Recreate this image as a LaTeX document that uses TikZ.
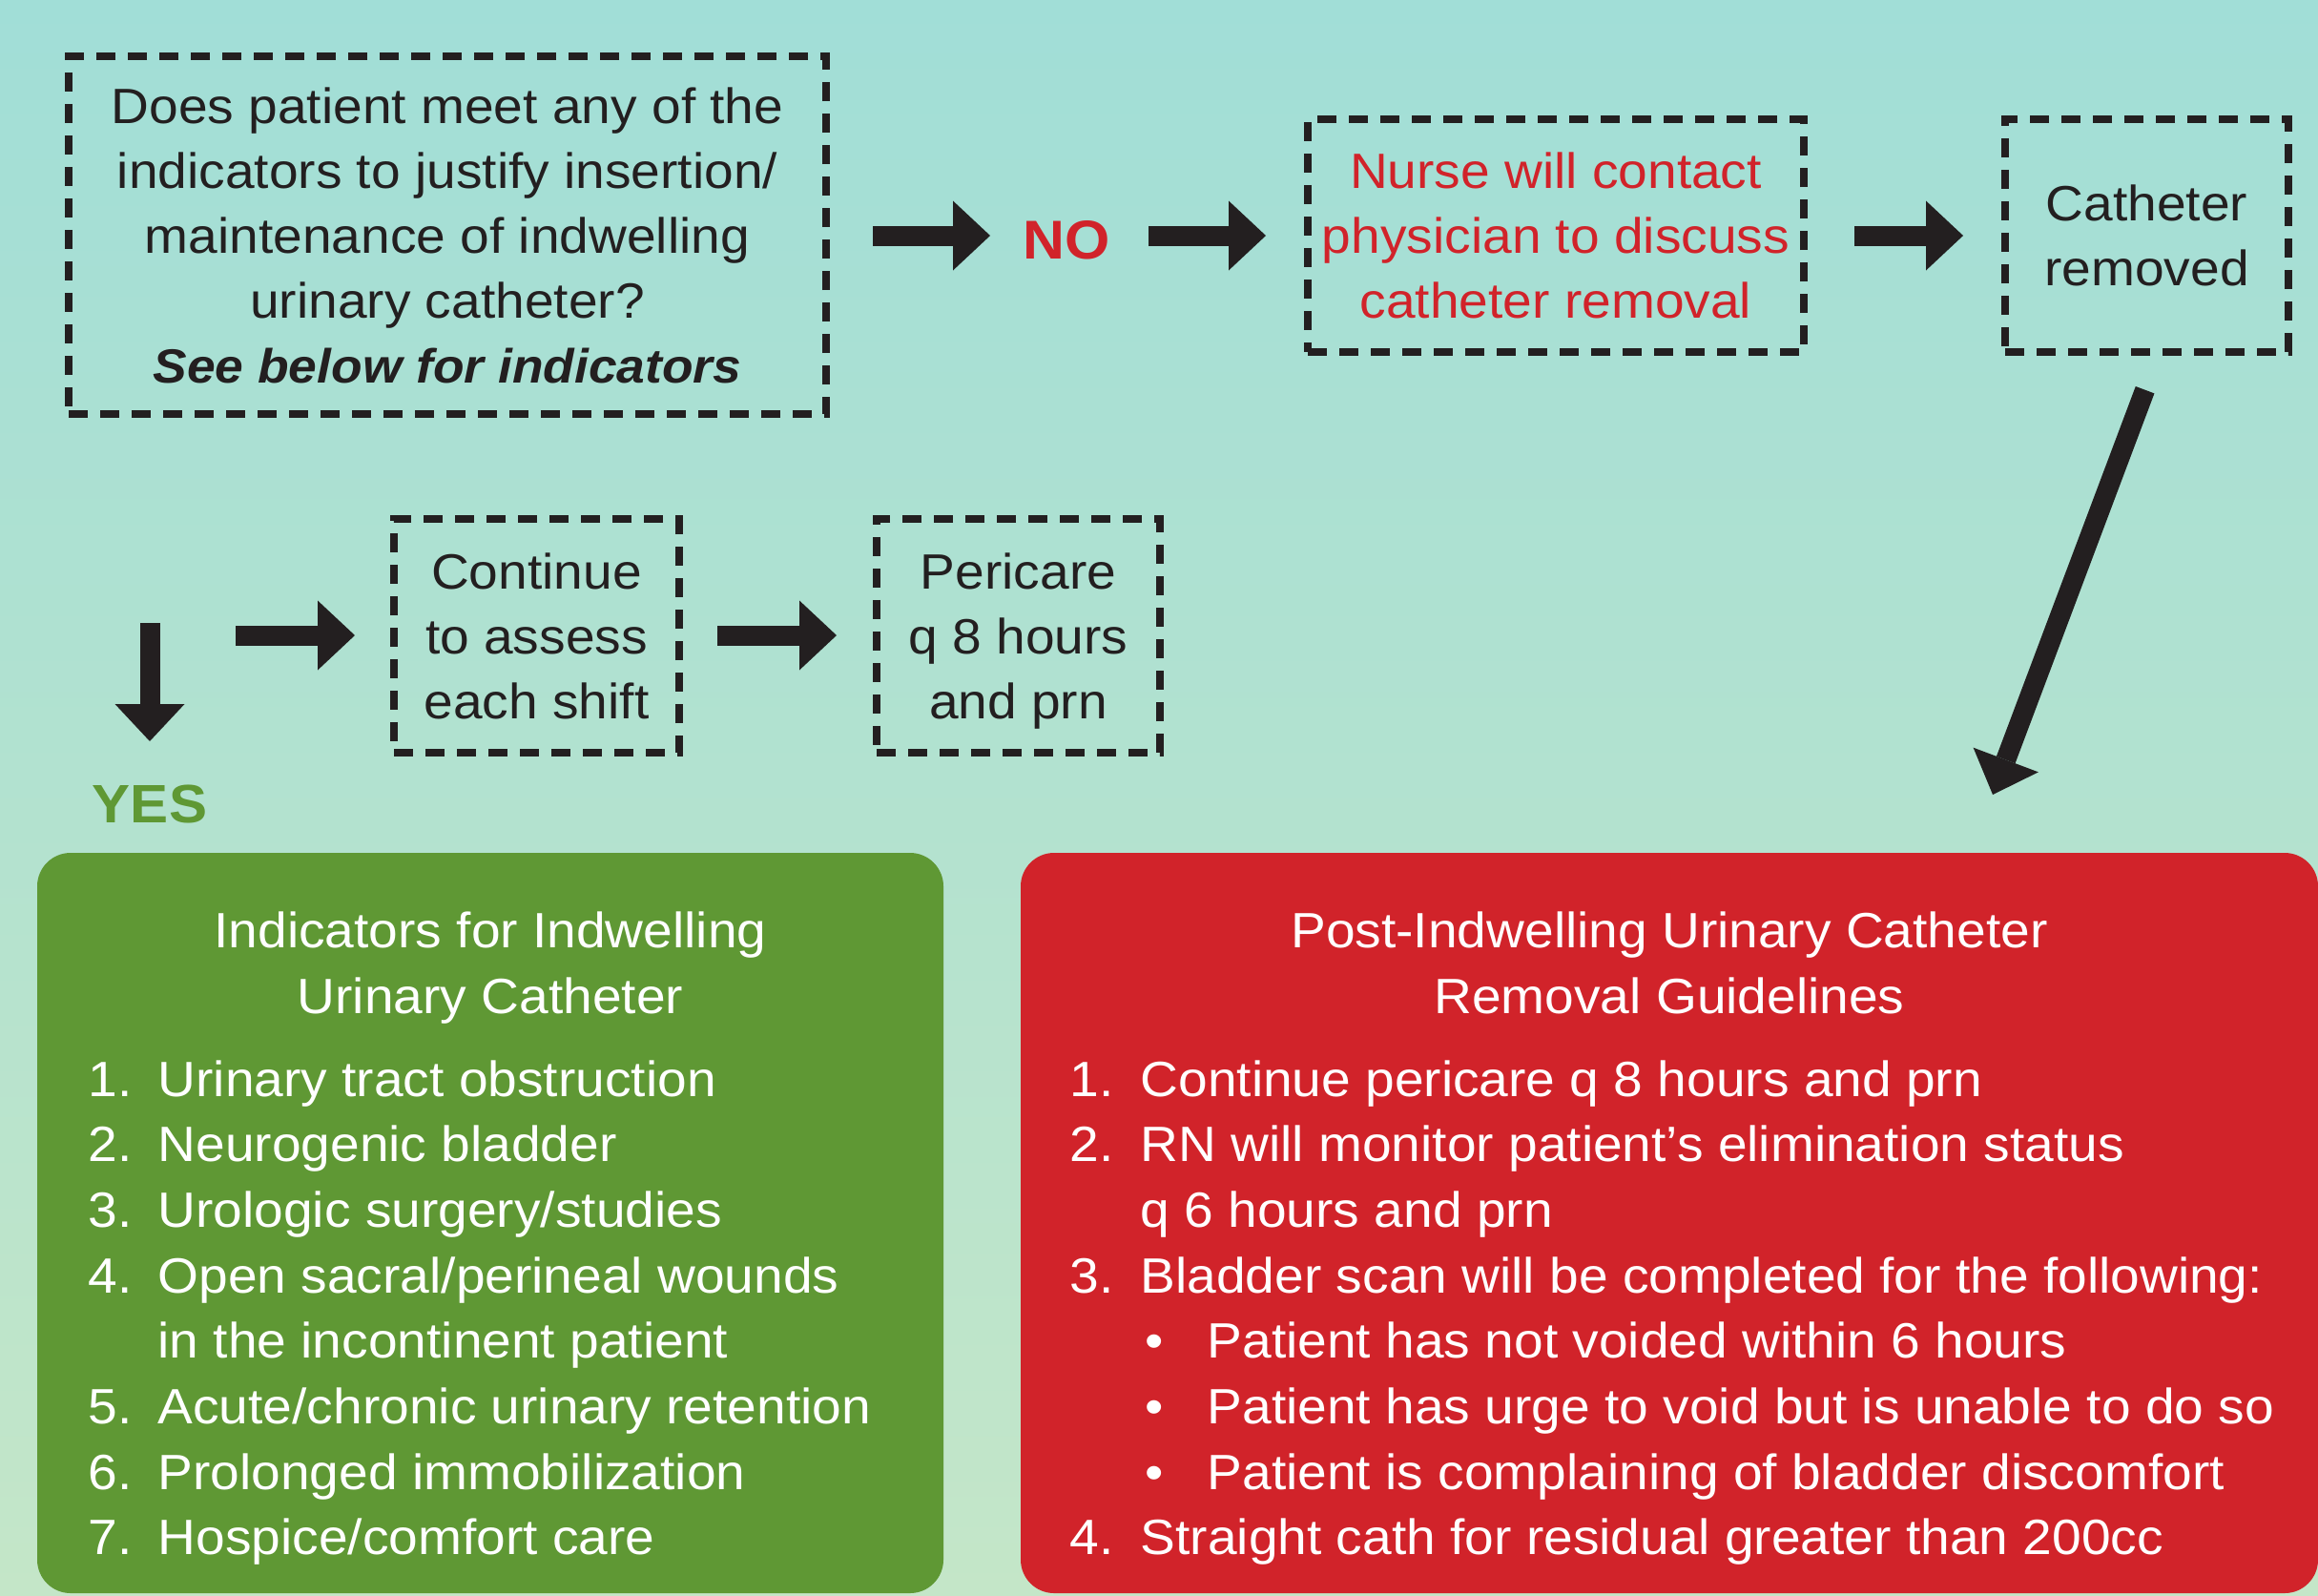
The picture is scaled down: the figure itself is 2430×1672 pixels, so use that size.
\documentclass[tikz,border=0pt]{standalone}
\usepackage{fontspec}
\setmainfont{Liberation Sans}[FakeStretch=1.06]
\usetikzlibrary{arrows.meta}
\definecolor{bgtop}{RGB}{161,222,215}
\definecolor{bgbot}{RGB}{196,230,200}
\definecolor{ink}{RGB}{35,31,32}
\definecolor{gbox}{RGB}{95,152,52}
\definecolor{rbox}{RGB}{209,35,42}
\begin{document}
\begin{tikzpicture}[x=0.3pt,y=-0.3pt,
  every node/.style={font=\fontsize{15.6}{20.4}\selectfont, text=ink},
  dbox/.style={draw=ink, line width=2.4pt, dash pattern=on 6pt off 3.9pt, align=center, inner sep=0pt, text depth=0pt},
  fat/.style={draw=ink, line width=6.3pt, -{Triangle[width=21.9pt,length=11.7pt,line width=0pt]}},
  cbox/.style={rounded corners=10.5pt, inner sep=0pt},
  wt/.style={text=white, inner sep=0pt, anchor=base west},
  wc/.style={text=white, inner sep=0pt, anchor=base},
  bigbold/.style={font=\fontsize{17.2}{20}\selectfont\bfseries, inner sep=0pt, anchor=base},
]
\useasboundingbox (0,0) rectangle (2430,1672);
\shade[top color=bgtop, bottom color=bgbot] (0,0) rectangle (2430,1672);

% top row
\node[dbox, minimum width=794*0.3pt, minimum height=375*0.3pt] (q) at (469,246.5)
  {Does patient meet any of the\\indicators to justify insertion/\\maintenance of indwelling\\urinary catheter?\\{\fontsize{15.1}{20.4}\selectfont\textbf{\textit{See below for indicators}}}};
\node[bigbold, text=rbox] (no) at (1118.5,271) {NO};
\node[dbox, text=rbox, minimum width=520*0.3pt, minimum height=244*0.3pt] (nurse) at (1631,247)
  {Nurse will contact\\physician to discuss\\catheter removal};
\node[dbox, minimum width=297*0.3pt, minimum height=244*0.3pt] (removed) at (2250.5,247)
  {Catheter\\removed};

% second row
\node[dbox, minimum width=299*0.3pt, minimum height=245*0.3pt] (cont) at (562.5,666.5)
  {Continue\\to assess\\each shift};
\node[dbox, minimum width=297*0.3pt, minimum height=245*0.3pt] (peri) at (1067.5,666.5)
  {Pericare\\q 8 hours\\and prn};
\node[bigbold, text=gbox, font=\fontsize{17}{20}\selectfont\bfseries] (yes) at (157,862) {YES};

% arrows
\coordinate (a1s) at (915,247);  \coordinate (a1e) at (1038,247);
\coordinate (a2s) at (1204,247); \coordinate (a2e) at (1327,247);
\coordinate (a3s) at (1944,247); \coordinate (a3e) at (2058,247);
\coordinate (a4s) at (2248.6,408.7); \coordinate (a4e) at (2089,833);
\coordinate (a5s) at (157,653);  \coordinate (a5e) at (157,777);
\coordinate (a6s) at (247,666);  \coordinate (a6e) at (372,666);
\coordinate (a7s) at (752,666);  \coordinate (a7e) at (877,666);
\draw[fat] (a1s) -- (a1e);
\draw[fat] (a2s) -- (a2e);
\draw[fat] (a3s) -- (a3e);
\draw[fat] (a4s) -- (a4e);
\draw[fat] (a5s) -- (a5e);
\draw[fat] (a6s) -- (a6e);
\draw[fat] (a7s) -- (a7e);

% coloured panels
\node[cbox, fill=gbox, minimum width=950*0.3pt, minimum height=776*0.3pt] (ind) at (514,1282) {};
\node[cbox, fill=rbox, minimum width=1360*0.3pt, minimum height=776*0.3pt] (post) at (1750,1282) {};

% green panel text
\node[wc] (gt1) at (514,993) {Indicators for Indwelling};
\node[wc] (gt2) at (514,1062) {Urinary Catheter};
\node[wt] (gn1) at (92,1149)   {1.}; \node[wt] (gl1) at (165,1149)   {Urinary tract obstruction};
\node[wt] (gn2) at (92,1217.7) {2.}; \node[wt] (gl2) at (165,1217.7) {Neurogenic bladder};
\node[wt] (gn3) at (92,1286.4) {3.}; \node[wt] (gl3) at (165,1286.4) {Urologic surgery/studies};
\node[wt] (gn4) at (92,1355.1) {4.}; \node[wt] (gl4) at (165,1355.1) {Open sacral/perineal wounds};
\node[wt] (gl4b) at (165,1423.8) {in the incontinent patient};
\node[wt] (gn5) at (92,1492.5) {5.}; \node[wt] (gl5) at (165,1492.5) {Acute/chronic urinary retention};
\node[wt] (gn6) at (92,1561.2) {6.}; \node[wt] (gl6) at (165,1561.2) {Prolonged immobilization};
\node[wt] (gn7) at (92,1629.9) {7.}; \node[wt] (gl7) at (165,1629.9) {Hospice/comfort care};

% red panel text
\node[wc] (rt1) at (1750,993) {Post-Indwelling Urinary Catheter};
\node[wc] (rt2) at (1750,1062) {Removal Guidelines};
\node[wt] (rn1) at (1121,1149)   {1.}; \node[wt] (rl1) at (1195,1149)   {Continue pericare q 8 hours and prn};
\node[wt] (rn2) at (1121,1217.7) {2.}; \node[wt] (rl2) at (1195,1217.7) {RN will monitor patient’s elimination status};
\node[wt] (rl2b) at (1195,1286.4) {q 6 hours and prn};
\node[wt] (rn3) at (1121,1355.1) {3.}; \node[wt] (rl3) at (1195,1355.1) {Bladder scan will be completed for the following:};
\node[wc] (rb1) at (1210,1423.8) {•}; \node[wt] (rs1) at (1265,1423.8) {Patient has not voided within 6 hours};
\node[wc] (rb2) at (1210,1492.5) {•}; \node[wt] (rs2) at (1265,1492.5) {Patient has urge to void but is unable to do so};
\node[wc] (rb3) at (1210,1561.2) {•}; \node[wt] (rs3) at (1265,1561.2) {Patient is complaining of bladder discomfort};
\node[wt] (rn4) at (1121,1629.9) {4.}; \node[wt] (rl4) at (1195,1629.9) {Straight cath for residual greater than 200cc};
\end{tikzpicture}
\end{document}
